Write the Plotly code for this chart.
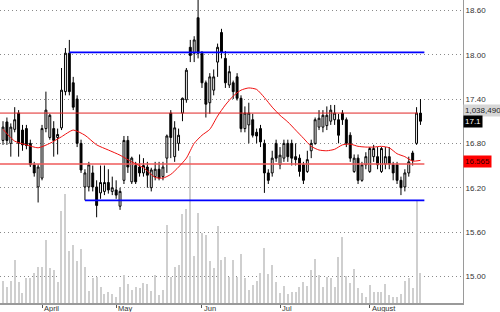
import plotly.graph_objects as go

# ---------------- data ----------------
bar_index = list(range(108))
open_ = [16.84,17.09,16.80,16.99,17.21,16.98,17.00,16.80,16.51,16.21,
         16.33,17.00,16.88,17.00,16.88,17.01,17.50,18.02,17.62,17.40,
         16.80,16.21,16.21,16.40,16.21,16.13,16.15,16.27,16.15,16.17,
         15.95,16.30,16.84,16.28,16.50,16.48,16.40,16.48,16.20,16.35,
         16.45,16.35,16.60,17.21,16.62,16.80,17.21,17.39,18.10,18.02,
         18.50,18.02,17.62,17.35,17.52,17.90,18.30,17.95,17.59,17.62,
         17.70,17.41,17.00,17.05,17.12,16.95,17.00,16.80,16.40,16.40,
         16.80,16.51,16.60,16.80,16.80,16.62,16.60,16.51,16.42,16.70,
         16.80,17.02,17.02,17.04,17.10,17.12,17.12,17.21,17.12,16.91,
         16.42,16.60,16.30,16.51,16.42,16.62,16.62,16.42,16.52,16.62,
         16.51,16.51,16.30,16.21,16.40,16.67,16.80,17.21]
high = [17.10,17.15,17.07,17.29,17.25,17.05,17.05,16.85,16.55,16.52,
        17.05,17.50,17.20,17.10,17.00,17.82,18.09,18.20,17.70,17.45,
        16.85,16.45,16.55,16.50,16.30,16.50,16.50,16.45,16.35,16.30,
        16.20,16.90,16.90,16.62,16.55,16.65,16.60,16.55,16.47,16.55,
        16.55,16.55,16.92,17.25,17.10,17.00,17.42,17.82,18.20,18.25,
        18.74,18.05,17.65,17.75,17.80,18.15,18.35,18.05,17.85,17.65,
        17.75,17.45,17.30,17.35,17.20,17.00,17.05,16.85,16.45,16.70,
        16.85,16.75,16.85,16.85,16.85,16.80,16.65,16.55,16.70,16.85,
        17.15,17.25,17.25,17.30,17.32,17.32,17.20,17.25,17.15,16.95,
        16.65,16.65,16.55,16.68,16.75,16.78,16.75,16.75,16.75,16.75,
        16.55,16.55,16.35,16.45,16.62,16.70,17.29,17.40]
low = [16.78,16.78,16.62,16.95,16.62,16.70,16.72,16.48,16.35,16.00,
       16.30,16.95,16.85,16.62,16.65,16.98,17.45,17.45,17.25,16.75,
       16.40,16.03,16.15,16.15,15.80,16.05,16.10,16.12,16.10,16.05,
       15.90,16.25,16.40,16.25,16.25,16.35,16.35,16.20,16.15,16.30,
       16.30,16.30,16.40,16.60,16.55,16.70,17.10,17.35,17.90,17.90,
       17.95,17.55,17.15,17.20,17.45,17.70,17.95,17.55,17.55,17.40,
       17.38,16.95,16.95,16.80,16.88,16.80,16.75,16.13,16.25,16.35,
       16.55,16.45,16.55,16.55,16.50,16.50,16.35,16.25,16.40,16.60,
       16.78,16.98,16.95,16.98,17.05,17.05,16.80,17.05,16.75,16.55,
       16.40,16.25,16.28,16.45,16.40,16.55,16.45,16.40,16.45,16.45,
       16.30,16.25,16.10,16.15,16.35,16.50,16.78,17.05]
close = [17.02,16.84,17.02,17.12,16.80,16.78,16.77,16.51,16.40,16.48,
         17.00,17.25,17.18,16.84,16.92,17.52,18.02,17.50,17.29,16.80,
         16.44,16.40,16.51,16.21,15.96,16.27,16.27,16.17,16.20,16.10,
         16.15,16.84,16.48,16.60,16.28,16.40,16.50,16.37,16.44,16.45,
         16.33,16.48,16.90,16.88,17.01,16.91,17.41,17.79,17.99,18.20,
         18.02,17.62,17.33,17.70,17.70,18.10,18.03,17.62,17.77,17.50,
         17.41,17.00,17.21,17.21,16.91,16.90,16.82,16.40,16.30,16.60,
         16.60,16.64,16.80,16.62,16.60,16.58,16.42,16.30,16.58,16.80,
         17.12,17.14,17.18,17.18,17.25,17.21,16.91,17.12,16.80,16.60,
         16.60,16.30,16.51,16.62,16.73,16.73,16.51,16.73,16.62,16.52,
         16.40,16.30,16.20,16.40,16.55,16.57,17.21,17.10]
volume_k = [220,160,220,430,210,100,250,250,300,360,
            360,630,350,330,210,930,1100,520,580,420,
            540,360,120,250,260,160,90,110,90,60,
            160,280,190,130,160,150,200,190,120,280,
            80,130,790,260,360,380,900,950,1480,470,
            910,700,680,420,350,780,430,460,260,430,
            260,490,250,130,180,220,300,550,290,380,
            210,100,170,90,110,110,160,210,170,330,
            440,280,160,260,250,160,460,660,270,200,
            340,150,100,60,180,110,110,110,190,80,
            60,60,90,220,250,150,1038,300]

ma_index = [0,3,6,9,12,15,18,21,24,27,30,33,36,39,41,43,45,47,49,51,53,55,57,59,
            61,63,65,67,69,71,73,75,77,79,81,83,85,87,89,91,93,95,97,99,101,103,105,107]
ma_value = [16.99,16.83,16.78,16.74,16.80,16.89,16.98,16.91,16.78,16.71,16.64,16.55,
            16.47,16.34,16.33,16.38,16.48,16.60,16.80,16.91,16.99,17.17,17.32,17.44,
            17.52,17.55,17.53,17.42,17.29,17.18,17.09,16.98,16.87,16.76,16.71,16.70,
            16.72,16.78,16.79,16.76,16.75,16.75,16.76,16.74,16.66,16.62,16.56,16.57]

resistance_level = 18.03
resistance_span = [17, 108]
support_level = 16.03
support_span = [21, 108]
upper_red_level = 17.21
upper_red_span = [-1, 106.3]
lower_red_level = 16.52
lower_red_span = [-1, 108]

month_ticks = [10, 29, 51, 71, 94]
month_labels = ["April", "May", "Jun", "Jul", "August"]
price_ticks = [15.00, 15.60, 16.20, 16.80, 17.40, 18.00, 18.60]

last_volume_text = "1,038,490"
last_volume_pos = 17.24
last_close_text = "17.1"
last_close_pos = 17.09
red_level_text = "16.565"
red_level_pos = 16.56

FONT = "Arial, Liberation Sans, sans-serif"

fig = go.Figure()

# volume (base axis, drawn underneath)
fig.add_trace(go.Bar(x=bar_index, y=volume_k, width=0.28,
                     marker=dict(color="#cfcfcf", line=dict(width=0)),
                     xaxis="x", yaxis="y", hoverinfo="skip"))

# horizontal level lines (price axis)
fig.add_trace(go.Scatter(x=upper_red_span, y=[upper_red_level]*2, mode="lines",
                         line=dict(color="#e02525", width=1), yaxis="y2", hoverinfo="skip"))
fig.add_trace(go.Scatter(x=lower_red_span, y=[lower_red_level]*2, mode="lines",
                         line=dict(color="#ef5a5a", width=1.6), yaxis="y2", hoverinfo="skip"))

# moving average
fig.add_trace(go.Scatter(x=ma_index, y=ma_value, mode="lines",
                         line=dict(color="#f01010", width=1, shape="spline", smoothing=0.6),
                         yaxis="y2", hoverinfo="skip"))

# candles
fig.add_trace(go.Candlestick(x=bar_index, open=open_, high=high, low=low, close=close,
                             yaxis="y2",
                             increasing=dict(line=dict(color="#000000", width=1), fillcolor="#ffffff"),
                             decreasing=dict(line=dict(color="#000000", width=1), fillcolor="#000000"),
                             whiskerwidth=0, hoverinfo="skip"))

fig.add_trace(go.Scatter(x=resistance_span, y=[resistance_level]*2, mode="lines",
                         line=dict(color="#0000ff", width=1.8), yaxis="y2", hoverinfo="skip"))
fig.add_trace(go.Scatter(x=support_span, y=[support_level]*2, mode="lines",
                         line=dict(color="#0000ff", width=1.8), yaxis="y2", hoverinfo="skip"))

annotations = []
for t, lab in zip(month_ticks, month_labels):
    annotations.append(dict(x=t, y=0, xref="x", yref="paper", text=lab, showarrow=False,
                            xanchor="left", yanchor="top", xshift=1, yshift=0,
                            borderpad=0,
                            font=dict(family=FONT, size=7.5, color="#333333")))
annotations.append(dict(x=1, y=last_volume_pos, xref="paper", yref="y2", text=last_volume_text,
                        showarrow=False, xanchor="left", yanchor="middle", bgcolor="#d6d6d6",
                        borderpad=1, font=dict(family=FONT, size=8, color="#222222")))
annotations.append(dict(x=1, y=last_close_pos, xref="paper", yref="y2", text=last_close_text,
                        showarrow=False, xanchor="left", yanchor="middle", bgcolor="#000000",
                        borderpad=1, font=dict(family=FONT, size=8, color="#ffffff")))
annotations.append(dict(x=1, y=red_level_pos, xref="paper", yref="y2", text=red_level_text,
                        showarrow=False, xanchor="left", yanchor="middle", bgcolor="#ff0000",
                        borderpad=1, font=dict(family=FONT, size=8, color="#330000")))

fig.update_layout(
    width=500, height=312,
    margin=dict(l=0, r=37, t=0, b=9),
    paper_bgcolor="#ffffff", plot_bgcolor="#ffffff",
    showlegend=False, bargap=0,
    xaxis=dict(range=[-0.77, 117.9], showgrid=False, zeroline=False,
               rangeslider=dict(visible=False),
               tickvals=month_ticks, ticks="outside", ticklen=3, tickcolor="#555555",
               showticklabels=False, showline=True, linecolor="#9a9a9a", linewidth=2),
    yaxis=dict(range=[0, 3050], visible=False, showgrid=False, fixedrange=True),
    yaxis2=dict(range=[14.64, 18.74], overlaying="y", side="right", anchor="x",
                tickvals=price_ticks, tickformat=".2f", ticks="",
                showgrid=True, gridcolor="#8a8a8a", griddash="1px,3px", gridwidth=1,
                zeroline=False, showline=True, linecolor="#9a9a9a", linewidth=1,
                tickfont=dict(family=FONT, size=8, color="#333333")),
    annotations=annotations,
)

fig.write_html("out.html")
